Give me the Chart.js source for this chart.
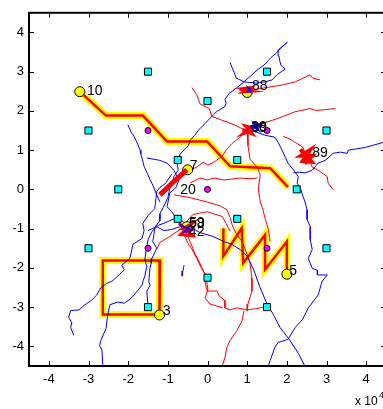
<!DOCTYPE html>
<html>
<head>
<meta charset="utf-8">
<script src="https://cdn.jsdelivr.net/npm/chart.js@4/dist/chart.umd.min.js"></script>
<style>
html, body { margin: 0; padding: 0; background: #fff; overflow: hidden; }
#wrap { width: 400px; height: 409px; }
</style>
</head>
<body>
<div id="wrap"><canvas id="tracks" width="400" height="409"></canvas></div>
<script>
// Axis ticks (units of 10^4)
var xTicks = [-4, -3, -2, -1, 0, 1, 2, 3, 4];
var yTicks = [-4, -3, -2, -1, 0, 1, 2, 3, 4];

// Fixed sensors (cyan squares) and anchors (magenta dots)
var sensors = [[-1.5, 3], [1.5, 3], [0, 2.25], [-3, 1.5], [3, 1.5], [-0.75, 0.75], [0.75, 0.75],
    [-2.25, 0], [2.25, 0], [-0.75, -0.75], [0.75, -0.75], [-3, -1.5], [3, -1.5], [0, -2.25],
    [-1.5, -3], [1.5, -3]];
var anchors = [[-1.5, 1.5], [1.5, 1.5], [0, 0], [-1.5, -1.5], [1.5, -1.5]];

// Target start points (yellow dots)
var targets = [[-3.22, 2.49], [-0.50, 0.50], [-1.21, -3.20], [2.00, -2.16], [1.00, 2.47], [-0.52, -0.95]];

// Text labels and where they sit
var labelText = ['10', '7', '20', '3', '5', '88', '38', '39', '89', '58', '59', '42'];
var labelPos = [[-3.04, 2.51], [-0.45, 0.59], [-0.69, -0.01], [-1.13, -3.09], [2.06, -2.08],
    [1.12, 2.62], [1.10, 1.58], [1.11, 1.57], [2.64, 0.92], [-0.47, -0.88], [-0.46, -0.87], [-0.47, -1.08]];

// Ground-truth paths (yellow band, red centre)
var pathA = [[-3.22, 2.49], [-2.56, 1.88], [-1.63, 1.88], [-1.02, 1.22], [-0.01, 1.22], [0.57, 0.59],
    [1.58, 0.54], [2.03, 0.06]];
var pathB = [[-1.21, -3.19], [-2.64, -3.19], [-2.64, -1.81], [-1.20, -1.81], [-1.21, -3.19]];
var pathC = [[0.40, -0.99], [0.40, -1.70], [0.86, -0.99], [0.90, -1.87], [1.45, -1.16], [1.45, -2.04],
    [2.00, -1.33], [2.00, -2.16]];
var path20 = [[-1.20, -0.14], [-0.85, 0.20], [-0.52, 0.50]];

// Estimated tracks - blue
var blueA = [[0.57, 3.24], [0.62, 3.10], [0.67, 2.99], [0.72, 2.84], [0.80, 2.80], [0.92, 2.74], [1.22, 2.71],
    [1.45, 2.74], [1.63, 2.79], [1.75, 2.92], [1.96, 3.07], [1.86, 3.15], [1.83, 3.24], [1.80, 3.40],
    [1.78, 3.55], [2.01, 3.75], [1.85, 3.60], [1.73, 3.47], [1.60, 3.36], [1.45, 3.19], [1.25, 3.04],
    [1.10, 2.90], [0.92, 2.74], [0.75, 2.60], [0.54, 2.44], [0.44, 2.29], [0.47, 2.20], [0.44, 2.11],
    [0.24, 1.99], [0.15, 1.90], [0.06, 1.81], [-0.06, 1.68], [-0.12, 1.62], [-0.21, 1.53], [-0.32, 1.38],
    [-0.44, 1.25], [-0.48, 1.12], [-0.54, 1.05], [-0.62, 0.98], [-0.69, 0.90], [-0.77, 0.69],
    [-0.74, 0.49], [-0.85, 0.32], [-0.88, 0.18], [-0.95, 0.04], [-1.00, -0.21], [-1.05, -0.32],
    [-1.12, -0.47], [-1.20, -0.62], [-1.20, -0.80], [-1.33, -0.97], [-1.35, -1.15], [-1.38, -1.33],
    [-1.28, -1.50], [-1.40, -1.76], [-1.42, -1.88], [-1.45, -2.01], [-1.48, -2.34], [-1.45, -2.45],
    [-1.53, -2.59], [-1.50, -2.97]];
var blueB = [[-0.90, 0.39], [-1.07, 0.14], [-1.20, 0.05], [-1.28, -0.06], [-1.33, -0.49], [-1.50, -0.67],
    [-1.63, -0.87], [-1.60, -1.05], [-1.65, -1.25], [-1.88, -1.40], [-1.92, -1.60], [-1.96, -1.76],
    [-2.16, -1.93], [-2.10, -2.05], [-2.23, -2.18], [-2.41, -2.34], [-2.55, -2.40], [-2.69, -2.51],
    [-2.80, -2.70], [-2.92, -2.82], [-3.10, -2.95], [-3.24, -3.07], [-3.45, -3.09], [-3.50, -3.26],
    [-3.42, -3.40], [-3.45, -3.52], [-3.37, -3.72]];
var blueC = [[-2.64, -4.51], [-2.66, -4.10], [-2.72, -3.98], [-2.69, -3.85], [-2.56, -3.55], [-2.51, -3.17],
    [-2.46, -2.94], [-2.26, -2.87], [-2.10, -2.90], [-1.98, -2.82], [-1.81, -2.64], [-1.65, -2.44],
    [-1.62, -2.32], [-1.58, -2.21], [-1.53, -1.96], [-1.58, -1.80], [-1.55, -1.58], [-1.50, -1.28],
    [-1.40, -1.07], [-1.25, -0.92], [-1.07, -0.85], [-0.82, -0.74]];
var blueD = [[-2.01, 1.65], [-1.91, 1.43], [-1.85, 1.35], [-1.78, 1.20], [-1.70, 1.00], [-1.68, 0.90],
    [-1.65, 0.80], [-1.60, 0.59], [-1.50, 0.37], [-1.45, 0.25], [-1.38, 0.11], [-1.28, -0.14], [-1.20, -0.32]];
var blueE = [[1.12, 1.50], [1.45, 1.38], [1.70, 1.33], [1.78, 1.20], [1.88, 1.00], [1.96, 0.82], [2.03, 0.67],
    [2.13, 0.54], [2.21, 0.44], [2.29, 0.32], [2.26, 0.16], [2.34, 0.04], [2.41, -0.19], [2.46, -0.32],
    [2.51, -0.52], [2.51, -0.77], [2.59, -0.95], [2.59, -1.28], [2.64, -1.53], [2.54, -1.76],
    [2.64, -2.01], [2.77, -2.06], [2.77, -2.18], [3.02, -2.18], [2.89, -2.34], [2.79, -2.69],
    [2.54, -3.02], [2.46, -3.19], [2.39, -3.32], [2.21, -3.52], [2.03, -3.82], [1.78, -3.90],
    [1.70, -4.02], [1.58, -4.36], [1.53, -4.51]];
var blueF = [[2.16, 0.42], [2.29, 0.44], [2.46, 0.42], [2.64, 0.49], [2.79, 0.67], [2.97, 0.74], [3.17, 0.92],
    [3.35, 0.95], [3.52, 0.92], [3.55, 1.00], [3.98, 1.07], [4.51, 1.22]];
var blueG = [[-0.69, -0.77], [-0.37, -1.00], [-0.19, -1.10], [0.14, -1.20], [0.42, -1.33], [0.57, -1.38],
    [0.82, -1.53], [1.00, -1.70], [1.15, -2.01], [1.33, -2.51], [1.50, -2.92], [1.65, -3.17],
    [1.83, -3.52], [2.08, -3.85], [2.29, -4.18], [2.46, -4.51]];
var blueH = [[-1.53, 0.80], [-1.20, 0.74], [-1.02, 0.67], [-0.85, 0.49], [-0.72, 0.24], [-0.80, 0.04],
    [-0.95, -0.09], [-1.02, -0.44], [-0.90, -0.57], [-0.80, -0.72]];
var blueI = [[-1.50, -1.05], [-1.28, -0.95], [-1.10, -1.05], [-0.90, -1.02], [-0.69, -0.95], [-0.49, -1.02]];
var blueJ = [[-0.59, -1.93], [-0.62, -2.08], [-0.64, -2.21]];
var blob38Blue = [[1.08, 1.56], [1.30, 1.66], [1.12, 1.62], [1.28, 1.52], [1.18, 1.68], [1.34, 1.58]];
var blob88Blue = [[0.98, 2.48], [1.08, 2.56], [1.02, 2.60], [1.10, 2.46]];
var blob58Blue = [[-0.70, -0.90], [-0.40, -1.05], [-0.60, -1.10], [-0.45, -0.92]];

// Estimated tracks - red
var redA = [[1.00, 2.51], [1.45, 2.59], [1.88, 2.66], [2.21, 2.74], [2.59, 2.92], [2.64, 2.84], [2.84, 2.79]];
var redB = [[-0.39, 2.59], [-0.27, 2.41], [-0.19, 2.18], [0.04, 2.06], [0.11, 1.86], [0.32, 1.78],
    [0.67, 1.65], [0.87, 1.55], [1.07, 1.50]];
var redC = [[1.07, 1.50], [1.45, 1.70], [1.78, 1.81], [2.21, 1.98], [2.59, 2.06], [2.74, 2.01], [3.22, 2.06]];
var redD = [[1.00, 1.45], [1.02, 1.12], [1.07, 0.77], [1.25, 0.57], [1.33, 0.37], [1.28, 0.01], [1.33, -0.32],
    [1.40, -0.52], [1.45, -0.74], [1.53, -1.00], [1.58, -1.33]];
var redE = [[0.95, 1.48], [0.82, 1.33], [0.62, 1.17], [0.47, 1.00], [0.37, 0.85], [0.16, 0.69], [0.01, 0.62],
    [-0.11, 0.69], [-0.27, 0.57], [-0.44, 0.49]];
var redF = [[-0.44, 0.16], [-0.19, 0.29], [-0.01, 0.24], [0.16, 0.29], [0.42, 0.24], [0.82, 0.29],
    [1.07, 0.27], [1.25, 0.29]];
var redG = [[-0.85, -0.14], [-0.44, -0.21], [-0.01, -0.32], [0.32, -0.42], [0.49, -0.52], [0.57, -0.72],
    [0.62, -0.90], [0.72, -1.12], [0.87, -1.33], [0.97, -1.58], [1.07, -1.88], [1.12, -2.26],
    [1.12, -2.59], [1.02, -2.92], [1.00, -3.09]];
var redH = [[-0.49, -1.02], [-0.57, -1.20], [-0.49, -1.38], [-0.39, -1.53], [-0.27, -1.76], [-0.19, -1.93],
    [-0.11, -2.08], [-0.01, -2.21], [-0.06, -2.36], [-0.01, -2.59], [0.24, -2.59], [0.29, -2.71],
    [0.42, -2.82], [0.44, -3.02], [0.57, -3.07], [0.74, -3.02], [1.00, -3.07], [1.20, -3.04], [1.48, -2.99]];
var redI = [[0.92, -3.09], [0.87, -3.35], [0.74, -3.60], [0.57, -3.85], [0.49, -4.02], [0.44, -4.28], [0.37, -4.51]];
var redJ = [[-0.57, -0.87], [-0.37, -0.64], [-0.01, -0.57], [0.37, -0.69], [0.47, -0.87], [0.57, -1.07]];
var redK = [[-0.54, -1.07], [-0.44, -1.33], [-0.32, -1.63], [-0.19, -1.88], [-0.04, -2.23], [0.01, -2.54],
    [-0.06, -2.77], [0.06, -2.92], [0.39, -3.02]];
var redL = [[-0.69, -1.02], [-0.95, -1.20], [-1.20, -1.35], [-1.28, -1.53]];
var redM = [[1.91, 1.35], [2.08, 1.28], [2.21, 1.20], [2.41, 1.07], [2.46, 0.90]];
var redN = [[2.59, 0.69], [2.64, 0.57], [2.79, 0.49], [2.89, 0.42], [3.02, 0.32], [3.04, 0.16], [3.17, -0.01]];
var blob38Red = [[0.88, 1.52], [1.12, 1.42], [0.95, 1.62], [1.10, 1.58], [0.90, 1.42], [1.15, 1.50], [1.00, 1.45]];
var blob88Red = [[0.80, 2.55], [1.15, 2.50], [0.88, 2.48], [1.08, 2.60], [0.92, 2.58], [1.18, 2.55]];
var blob89Red = [[2.34, 1.02], [2.62, 0.70], [2.40, 0.72], [2.58, 1.00], [2.36, 0.86], [2.64, 0.86], [2.45, 0.66]];
var blob58Red = [[-0.72, -0.86], [-0.38, -1.18], [-0.68, -1.15], [-0.40, -0.88], [-0.62, -1.00], [-0.36, -1.02]];

var blueTracks = [blueA, blueB, blueC, blueD, blueE, blueF, blueG, blueH, blueI, blueJ];
var redTracks = [redA, redB, redC, redD, redE, redF, redG, redH, redI, redJ, redK, redL, redM, redN];

function pts(arr) {
    return arr.map(function(p) { return { x: p[0], y: p[1] }; });
}

function lineSet(arr, color, width, order) {
    return {
        data: pts(arr),
        showLine: true,
        borderColor: color,
        borderWidth: width,
        pointRadius: 0,
        fill: false,
        tension: 0,
        order: order
    };
}

var datasets = [];

// yellow bands under everything
[pathA, pathB, pathC].forEach(function(p) {
    var ds = lineSet(p, '#ffff00', 7, 20);
    ds.borderJoinStyle = 'miter';
    datasets.push(ds);
});
[pathA, pathB, pathC].forEach(function(p) {
    datasets.push(lineSet(p, '#ff0000', 2.5, 19));
});

blueTracks.forEach(function(t) { datasets.push(lineSet(t, '#0000ff', 1, 10)); });
redTracks.forEach(function(t) { datasets.push(lineSet(t, '#ff0000', 1, 10)); });

// target dots sit under the dense blobs
datasets.push({
    data: pts(targets), showLine: false, pointStyle: 'circle', pointRadius: 5,
    pointBackgroundColor: '#ffff00', pointBorderColor: '#000', pointBorderWidth: 1, order: 8
});

datasets.push(lineSet(path20, '#ff0000', 5, 6));
datasets.push(lineSet(blob38Red, '#ff0000', 3, 6));
datasets.push(lineSet(blob88Red, '#ff0000', 2.5, 6));
datasets.push(lineSet(blob89Red, '#ff0000', 4, 6));
datasets.push(lineSet(blob58Red, '#ff0000', 3, 6));
datasets.push(lineSet(blob38Blue, '#0000ff', 2, 5));
datasets.push(lineSet(blob88Blue, '#0000ff', 1.5, 5));
datasets.push(lineSet(blob58Blue, '#0000ff', 1.5, 5));

// fixed markers on top
datasets.push({
    data: pts(sensors), showLine: false, pointStyle: 'rect', pointRadius: 5,
    pointBackgroundColor: '#00ffff', pointBorderColor: '#000', pointBorderWidth: 1, order: 1
});
datasets.push({
    data: pts(anchors), showLine: false, pointStyle: 'circle', pointRadius: 3,
    pointBackgroundColor: '#ff00ff', pointBorderColor: '#000', pointBorderWidth: 1, order: 2
});

var fontFamily = '"Liberation Sans", Arial, Helvetica, sans-serif';

// box, inward ticks, point labels and the x 10^4 exponent
var matlabFrame = {
    id: 'matlabFrame',
    afterDatasetsDraw: function(chart) {
        var ctx = chart.ctx;
        var xs = chart.scales.x, ys = chart.scales.y;
        ctx.save();
        ctx.fillStyle = '#000';
        ctx.font = '14px ' + fontFamily;
        ctx.textAlign = 'left';
        ctx.textBaseline = 'middle';
        labelText.forEach(function(t, i) {
            ctx.fillText(t, xs.getPixelForValue(labelPos[i][0]), ys.getPixelForValue(labelPos[i][1]));
        });
        ctx.restore();
    },
    afterDraw: function(chart) {
        var ctx = chart.ctx;
        var a = chart.chartArea;
        var xs = chart.scales.x, ys = chart.scales.y;
        ctx.save();
        ctx.strokeStyle = '#000';
        ctx.lineWidth = 1;
        ctx.beginPath();
        xTicks.forEach(function(v) {
            var px = Math.round(xs.getPixelForValue(v)) + 0.5;
            ctx.moveTo(px, a.bottom); ctx.lineTo(px, a.bottom - 5);
            ctx.moveTo(px, a.top); ctx.lineTo(px, a.top + 5);
        });
        yTicks.forEach(function(v) {
            var py = Math.round(ys.getPixelForValue(v)) + 0.5;
            ctx.moveTo(a.left, py); ctx.lineTo(a.left + 5, py);
            ctx.moveTo(a.right, py); ctx.lineTo(a.right - 5, py);
        });
        ctx.stroke();
        ctx.lineWidth = 2;
        ctx.strokeRect(a.left, a.top, a.right - a.left, a.bottom - a.top);

        ctx.fillStyle = '#000';
        ctx.textBaseline = 'alphabetic';
        ctx.textAlign = 'left';
        ctx.font = '12px ' + fontFamily;
        ctx.fillText('x 10', a.right - 31, 405);
        ctx.font = '9px ' + fontFamily;
        ctx.fillText('4', a.right - 7, 398);
        ctx.restore();
    }
};

function fixedTicks(list) {
    return function(scale) {
        scale.ticks = list.map(function(v) { return { value: v }; });
    };
}

var ctx = document.getElementById('tracks').getContext('2d');
var chart = new Chart(ctx, {
    type: 'scatter',
    data: { datasets: datasets },
    options: {
        responsive: false,
        animation: false,
        events: [],
        layout: { padding: { top: 9, right: 14, left: 0, bottom: 0 } },
        plugins: { legend: { display: false }, tooltip: { enabled: false } },
        scales: {
            x: {
                type: 'linear',
                min: -4.5,
                max: 4.5,
                grid: { display: false, drawTicks: false },
                border: { display: false },
                afterBuildTicks: fixedTicks(xTicks),
                ticks: {
                    autoSkip: false,
                    maxRotation: 0,
                    padding: 6,
                    color: '#000',
                    font: { family: fontFamily, size: 13 }
                },
                afterFit: function(scale) { scale.height = 43; }
            },
            y: {
                type: 'linear',
                min: -4.5,
                max: 4.5,
                grid: { display: false, drawTicks: false },
                border: { display: false },
                afterBuildTicks: fixedTicks(yTicks),
                ticks: {
                    autoSkip: false,
                    padding: 5,
                    color: '#000',
                    font: { family: fontFamily, size: 13 }
                },
                afterFit: function(scale) { scale.width = 29; }
            }
        }
    },
    plugins: [matlabFrame]
});
</script>
</body>
</html>
